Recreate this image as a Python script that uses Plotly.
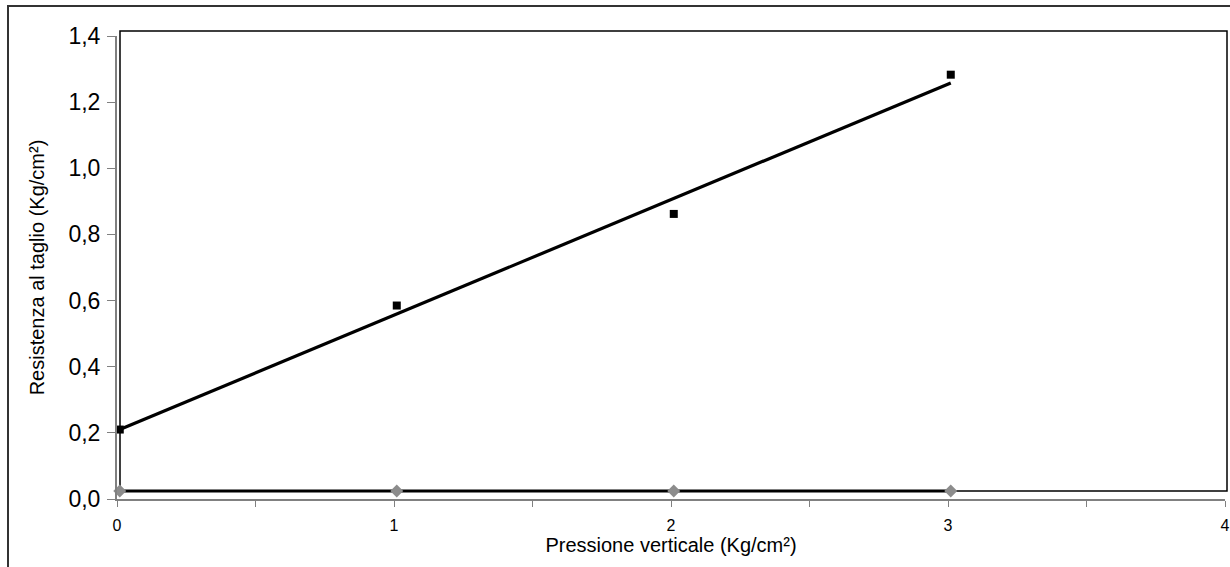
import plotly.graph_objects as go

# Data
pressione = [0.01, 1.01, 2.01, 3.01]
resistenza = [0.21, 0.585, 0.862, 1.283]
base_series = [0.024, 0.024, 0.024, 0.024]
trend_x = [0.01, 3.01]
trend_y = [0.21, 1.258]

x_tickvals = [0, 0.5, 1, 1.5, 2, 2.5, 3, 3.5, 4]
x_ticktext = ["0", "", "1", "", "2", "", "3", "", "4"]
y_tickvals = [0, 0.2, 0.4, 0.6, 0.8, 1.0, 1.2, 1.4]
y_ticktext = ["0,0", "0,2", "0,4", "0,6", "0,8", "1,0", "1,2", "1,4"]

FONT = "Liberation Sans, Arial, sans-serif"
W, H = 1230, 567
L, R, T, B = 117, 5, 36, 68
pw, ph = W - L - R, H - T - B

def px(xp):
    return (xp - L) / pw

def py(yp):
    return (H - B - yp) / ph

fig = go.Figure()

# base series (gray diamonds, black line)
fig.add_trace(go.Scatter(
    x=pressione, y=base_series, mode="lines+markers",
    line=dict(color="black", width=3),
    marker=dict(symbol="diamond", size=10, color="#8c8c8c"),
    cliponaxis=False, showlegend=False))

# trend line
fig.add_trace(go.Scatter(
    x=trend_x, y=trend_y, mode="lines",
    line=dict(color="black", width=3.2), showlegend=False))

# measured points
fig.add_trace(go.Scatter(
    x=pressione, y=resistenza, mode="markers",
    marker=dict(symbol="square", size=8, color="black"),
    cliponaxis=False, showlegend=False))

shapes = [
    # plot-area frame
    dict(type="rect", xref="paper", yref="paper",
         x0=px(120), x1=px(1227), y0=py(491), y1=py(31),
         line=dict(color="black", width=1.5), layer="below"),
    # outer chart border
    dict(type="rect", xref="paper", yref="paper",
         x0=px(8), x1=px(1245), y0=py(585), y1=py(6),
         line=dict(color="#333333", width=2), layer="below"),
]

fig.update_layout(
    width=W, height=H,
    margin=dict(l=L, r=R, t=T, b=B, autoexpand=False),
    paper_bgcolor="white", plot_bgcolor="rgba(0,0,0,0)",
    font=dict(family=FONT, color="black"),
    shapes=shapes,
    xaxis=dict(
        range=[0, 4], tickvals=x_tickvals, ticktext=x_ticktext,
        showgrid=False, zeroline=False,
        showline=True, linecolor="#808080", linewidth=2,
        ticks="outside", ticklen=6, tickcolor="#808080", tickwidth=1,
        tickfont=dict(size=16, family=FONT), ticklabelstandoff=5,
        title=dict(text="Pressione verticale (Kg/cm²)",
                   font=dict(size=20, family=FONT), standoff=3),
    ),
    yaxis=dict(
        range=[0, 1.4], tickvals=y_tickvals, ticktext=y_ticktext,
        showgrid=False, zeroline=False,
        showline=True, linecolor="#808080", linewidth=2,
        ticks="outside", ticklen=8, tickcolor="#808080", tickwidth=1,
        tickfont=dict(size=23, family=FONT), ticklabelstandoff=2,
        title=dict(text="Resistenza al taglio (Kg/cm²)",
                   font=dict(size=20, family=FONT), standoff=18),
    ),
)

fig.write_html("out.html")
